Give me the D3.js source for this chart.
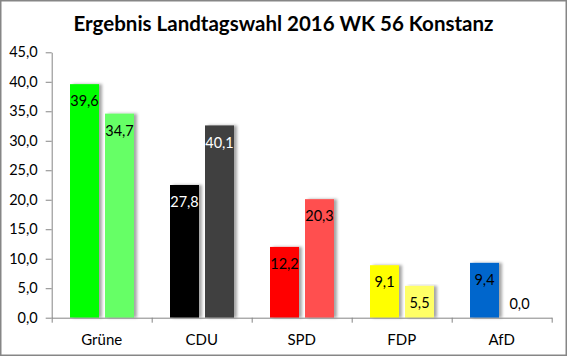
<!DOCTYPE html>
<html>
<head>
<meta charset="utf-8">
<script src="https://cdn.jsdelivr.net/npm/d3@7"></script>
<style>
  html, body { margin: 0; padding: 0; background: #fff; }
  svg { display: block; }
  text { font-family: Lato, "Open Sans", sans-serif; }
</style>
</head>
<body>
<script>
// ---- data ----
const title = "Ergebnis Landtagswahl 2016 WK 56 Konstanz";
const categories = ["Grüne", "CDU", "SPD", "FDP", "AfD"];
// bar heights as drawn in the reference
const barsA = [39.6, 22.5, 12.0, 8.9, 9.3];
const barsB = [34.6, 32.6, 20.1, 5.4, 0.0];
// data labels as printed in the reference
const labelsA = ["39,6", "27,8", "12,2", "9,1", "9,4"];
const labelsB = ["34,7", "40,1", "20,3", "5,5", "0,0"];
const colorsA = ["#00ff00", "#000000", "#ff0000", "#ffff00", "#0066cc"];
const colorsB = ["#66ff66", "#404040", "#ff5050", "#ffff66", "#0066cc"];
const labelColorsA = ["#000", "#fff", "#000", "#000", "#000"];
const labelColorsB = ["#000", "#fff", "#000", "#000", "#000"];
const yTicks = [0, 5, 10, 15, 20, 25, 30, 35, 40, 45];

const W = 567, H = 356;
const plot = { left: 51.7, right: 551.7, top: 52.3, bottom: 317.7 };

const svg = d3.select("body").append("svg").attr("width", W).attr("height", H);

const defs = svg.append("defs");
const f = defs.append("filter").attr("id", "shadow")
  .attr("x", "-20%").attr("y", "-5%").attr("width", "150%").attr("height", "110%");
f.append("feDropShadow").attr("dx", 3).attr("dy", 0).attr("stdDeviation", 1.5)
  .attr("flood-color", "#000").attr("flood-opacity", 0.35);

svg.append("rect").attr("x", 0.75).attr("y", 0.75).attr("width", W - 1.5).attr("height", H - 1.5)
  .attr("fill", "#fff").attr("stroke", "#868686").attr("stroke-width", 1.5);

svg.append("text").attr("x", 283.5).attr("y", 31).attr("text-anchor", "middle")
  .attr("font-size", 20.5).attr("font-weight", "bold").attr("fill", "#000").text(title);

const y = d3.scaleLinear().domain([0, 45]).range([plot.bottom, plot.top]);
const x = d3.scaleBand().domain(categories).range([plot.left, plot.right]).padding(0);
const xs = d3.scaleBand().domain(["A", "B"]).range([18.3, 82.3]).paddingInner(6 / 35);

const rows = categories.map((c, i) => ({
  c, i,
  bars: [
    { k: "A", v: barsA[i], lab: labelsA[i], col: colorsA[i], lc: labelColorsA[i] },
    { k: "B", v: barsB[i], lab: labelsB[i], col: colorsB[i], lc: labelColorsB[i] }
  ]
}));

const g = svg.append("g");
const groups = g.selectAll("g.cat").data(rows).join("g")
  .attr("transform", d => `translate(${x(d.c)},0)`);

groups.selectAll("rect").data(d => d.bars.filter(b => b.v > 0)).join("rect")
  .attr("x", b => xs(b.k)).attr("width", xs.bandwidth())
  .attr("y", b => y(b.v)).attr("height", b => y(0) - y(b.v))
  .attr("fill", b => b.col).attr("filter", "url(#shadow)");

groups.selectAll("text").data(d => d.bars).join("text")
  .attr("x", b => xs(b.k) + xs.bandwidth() / 2)
  .attr("y", b => (y(0) - y(b.v) > 24 ? y(b.v) + 17 : y(b.v) - 14))
  .attr("dy", "0.35em").attr("text-anchor", "middle")
  .attr("font-size", 14.5).attr("fill", b => b.lc).text(b => b.lab);

// y axis
const fmt = v => d3.format(".1f")(v).replace(".", ",");
const yAxis = svg.append("g").attr("transform", `translate(${plot.left},0)`)
  .call(d3.axisLeft(y).tickValues(yTicks).tickFormat(fmt).tickSize(6).tickSizeOuter(0).tickPadding(8));
yAxis.selectAll("path, line").attr("stroke", "#868686");
yAxis.selectAll("text").attr("font-size", 14.5).attr("fill", "#000")
  .attr("font-family", "Lato, 'Open Sans', sans-serif");

// x axis: baseline with boundary ticks
const xb = d3.scaleLinear().domain([0, categories.length]).range([plot.left, plot.right]);
const xAxis = svg.append("g").attr("transform", `translate(0,${plot.bottom})`)
  .call(d3.axisBottom(xb).ticks(categories.length).tickFormat("").tickSize(5).tickSizeOuter(0));
xAxis.selectAll("path, line").attr("stroke", "#868686");

const xLab = svg.append("g").attr("transform", `translate(0,${plot.bottom})`)
  .call(d3.axisBottom(x).tickSize(0).tickPadding(17));
xLab.select("path").remove();
xLab.selectAll("text").attr("font-size", 15).attr("fill", "#000")
  .attr("font-family", "Lato, 'Open Sans', sans-serif");
</script>
</body>
</html>
